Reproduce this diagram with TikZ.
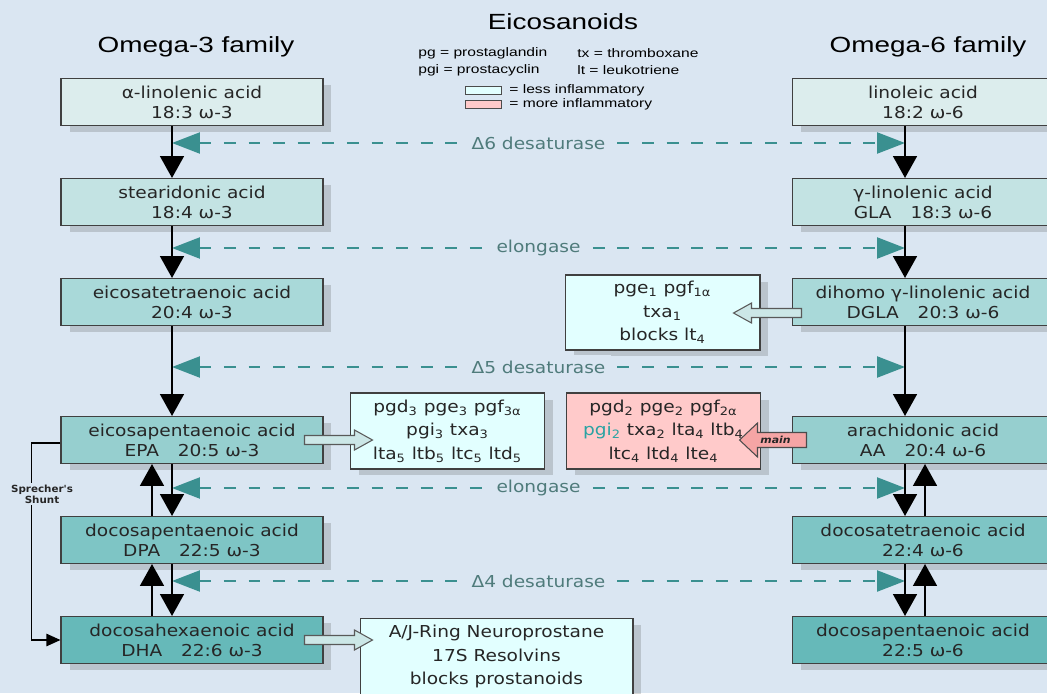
\documentclass[tikz,border=0pt]{standalone}
\usepackage{fontspec}
\setmainfont{DejaVu Sans}[FakeStretch=1.13]
\newfontfamily\titlefont{Liberation Sans}[FakeStretch=1.27]
\newfontfamily\shuntfont{DejaVu Sans}[FakeStretch=1.05]
\usetikzlibrary{arrows.meta,shadows,calc}
\definecolor{bg}{HTML}{DAE6F2}
\definecolor{cA}{HTML}{DCEDED}
\definecolor{cB}{HTML}{C3E3E3}
\definecolor{cC}{HTML}{A9D9D9}
\definecolor{cD}{HTML}{96CFCF}
\definecolor{cE}{HTML}{7EC5C5}
\definecolor{cF}{HTML}{66B9B9}
\definecolor{tealline}{HTML}{3A9090}
\definecolor{lblcol}{HTML}{4F7B7B}
\definecolor{lesscol}{HTML}{E2FFFF}
\definecolor{morecol}{HTML}{FFCACA}
\definecolor{arrfill}{HTML}{CCE7E7}
\definecolor{mainfill}{HTML}{F6A5A5}
\definecolor{pgicol}{HTML}{2AA3A3}
\newcommand{\gapsp}{\hspace{1.15em}}
\tikzset{
  boxshadow/.style={drop shadow={shadow xshift=0.17cm, shadow yshift=-0.13cm, fill=black!70, opacity=0.22}},
  acid/.style={draw=black!75, line width=0.6pt, minimum width=5.24cm, minimum height=0.94cm,
    inner sep=0pt, align=center, text=black!85, font=\fontsize{9.35}{11.3}\selectfont, boxshadow},
  prod/.style={draw=black!75, line width=0.6pt, minimum width=3.88cm, minimum height=1.52cm,
    inner sep=0pt, align=center, text=black!85, font=\fontsize{9.35}{13.3}\selectfont, boxshadow},
  conv/.style={line width=1.15pt, -{Triangle[width=13.6pt,length=12.5pt]}},
  enz/.style={tealline, line width=1.4pt, dash pattern=on 6.8pt off 7.2pt,
    {Triangle[width=11.9pt,length=15.9pt]}-{Triangle[width=11.9pt,length=15.9pt]}},
  enzlbl/.style={fill=bg, text=lblcol, inner sep=3pt, font=\fontsize{9.35}{11}\selectfont},
  blockarr/.style={draw=black!65, line width=0.6pt, fill=arrfill},
  legtext/.style={anchor=west, inner sep=0pt, font=\titlefont\fontsize{7.0}{8.4}\selectfont},
  headtext/.style={font=\titlefont\fontsize{12.5}{14}\selectfont, inner sep=0pt},
}
\begin{document}
\begin{tikzpicture}[x=0.02cm, y=-0.02cm]
\useasboundingbox (0,0) rectangle (1047,693);
\clip (0,0) rectangle (1047,693);
\fill[bg] (0,0) rectangle (1047,693);

% headings
\node[headtext] (title) at (563,22) {Eicosanoids};
\node[headtext] (om3) at (196,47) {Omega-3 family};
\node[headtext] (om6) at (928,47) {Omega-6 family};

% legend
\node[legtext] (lg1) at (418,53) {pg = prostaglandin};
\node[legtext] (lg2) at (418,70) {pgi = prostacyclin};
\node[legtext] (lg3) at (577,53) {tx = thromboxane};
\node[legtext] (lg4) at (577,70) {lt = leukotriene};
\node[draw=black!70, fill=lesscol, minimum width=0.72cm, minimum height=0.16cm, inner sep=0pt] (lgless) at (483,90) {};
\node[draw=black!70, fill=morecol, minimum width=0.72cm, minimum height=0.16cm, inner sep=0pt] (lgmore) at (483,104) {};
\node[legtext] (lg5) at (509,90) {= less inflammatory};
\node[legtext] (lg6) at (509,104) {= more inflammatory};

% omega-3 column
\node[acid, fill=cA] (ala) at (192,102) {α-linolenic acid\\18:3 ω-3};
\node[acid, fill=cB] (sda) at (192,202) {stearidonic acid\\18:4 ω-3};
\node[acid, fill=cC] (eta) at (192,302) {eicosatetraenoic acid\\20:4 ω-3};
\node[acid, fill=cD] (epa) at (192,440) {eicosapentaenoic acid\\EPA\gapsp 20:5 ω-3};
\node[acid, fill=cE] (dpa3) at (192,540) {docosapentaenoic acid\\DPA\gapsp 22:5 ω-3};
\node[acid, fill=cF] (dha) at (192,640) {docosahexaenoic acid\\DHA\gapsp 22:6 ω-3};

% omega-6 column
\node[acid, fill=cA] (la) at (923,102) {linoleic acid\\18:2 ω-6};
\node[acid, fill=cB] (gla) at (923,202) {γ-linolenic acid\\GLA\gapsp 18:3 ω-6};
\node[acid, fill=cC] (dgla) at (923,302) {dihomo γ-linolenic acid\\DGLA\gapsp 20:3 ω-6};
\node[acid, fill=cD] (aa) at (923,440) {arachidonic acid\\AA\gapsp 20:4 ω-6};
\node[acid, fill=cE] (dta) at (923,540) {docosatetraenoic acid\\22:4 ω-6};
\node[acid, fill=cF] (dpa6) at (923,640) {docosapentaenoic acid\\22:5 ω-6};

% product boxes
\node[prod, fill=lesscol, minimum width=3.9cm, minimum height=1.5cm] (dglaP) at (662.5,312.5)
  {pge\textsubscript{1} pgf\textsubscript{1α}\\txa\textsubscript{1}\\blocks lt\textsubscript{4}};
\node[prod, fill=lesscol] (epaP) at (447.5,431)
  {pgd\textsubscript{3} pge\textsubscript{3} pgf\textsubscript{3α}\\pgi\textsubscript{3} txa\textsubscript{3}\\lta\textsubscript{5} ltb\textsubscript{5} ltc\textsubscript{5} ltd\textsubscript{5}};
\node[prod, fill=morecol] (aaP) at (663.5,431)
  {pgd\textsubscript{2} pge\textsubscript{2} pgf\textsubscript{2α}\\{\color{pgicol}pgi\textsubscript{2}} txa\textsubscript{2} lta\textsubscript{4} ltb\textsubscript{4}\\ltc\textsubscript{4} ltd\textsubscript{4} lte\textsubscript{4}};
\node[prod, fill=lesscol, minimum width=5.46cm, anchor=north] (dhaP) at (496.5,618)
  {A/J-Ring Neuroprostane\\17S Resolvins\\blocks prostanoids};

% reference coordinates for the vertical routes and enzyme lines
\coordinate (L) at (172,0);
\coordinate (Lu) at (152,0);
\coordinate (R) at (905,0);
\coordinate (Ru) at (925,0);
\coordinate (d6l) at (172,143);  \coordinate (d6r) at (905,143);
\coordinate (e1l) at (172,248);  \coordinate (e1r) at (905,248);
\coordinate (d5l) at (172,367);  \coordinate (d5r) at (905,367);
\coordinate (e2l) at (172,488);  \coordinate (e2r) at (905,488);
\coordinate (d4l) at (172,581);  \coordinate (d4r) at (905,581);

% enzyme (dashed) connectors
\draw[enz] (d6l) -- node[enzlbl] (lbd6) {Δ6 desaturase} (d6r);
\draw[enz] (e1l) -- node[enzlbl] (lbe1) {elongase} (e1r);
\draw[enz] (d5l) -- node[enzlbl] (lbd5) {Δ5 desaturase} (d5r);
\draw[enz] (e2l) -- node[enzlbl] (lbe2) {elongase} (e2r);
\draw[enz] (d4l) -- node[enzlbl] (lbd4) {Δ4 desaturase} (d4r);

% conversion arrows, omega-3
\draw[conv] (ala.south -| L) -- (sda.north -| L);
\draw[conv] (sda.south -| L) -- (eta.north -| L);
\draw[conv] (eta.south -| L) -- (epa.north -| L);
\draw[conv] (epa.south -| L) -- (dpa3.north -| L);
\draw[conv] (dpa3.south -| L) -- (dha.north -| L);
\draw[conv] (dpa3.north -| Lu) -- (epa.south -| Lu);
\draw[conv] (dha.north -| Lu) -- (dpa3.south -| Lu);

% conversion arrows, omega-6
\draw[conv] (la.south -| R) -- (gla.north -| R);
\draw[conv] (gla.south -| R) -- (dgla.north -| R);
\draw[conv] (dgla.south -| R) -- (aa.north -| R);
\draw[conv] (aa.south -| R) -- (dta.north -| R);
\draw[conv] (dta.south -| R) -- (dpa6.north -| R);
\draw[conv] (dta.north -| Ru) -- (aa.south -| Ru);
\draw[conv] (dpa6.north -| Ru) -- (dta.south -| Ru);

% Sprecher's shunt
\draw[line width=0.9pt, -{Triangle[length=8pt,width=7pt]}] ($(epa.west)+(0,3)$) -- ++(-29,0) |- (dha.west);
\node[font=\shuntfont\bfseries\fontsize{5.6}{6.4}\selectfont, text=black!85, fill=bg, inner sep=1pt, align=center] (shunt) at (42,494) {Sprecher's\\Shunt};

% block arrows to product boxes
\draw[blockarr] ($(epa.east)+(-19,-4.5)$) -- ++(50,0) -- ++(0,-5.5) -- ++(18,10) -- ++(-18,10) -- ++(0,-5.5) -- ++(-50,0) -- cycle;
\draw[blockarr] ($(dha.east)+(-19,-4.5)$) -- ++(50,0) -- ++(0,-5.5) -- ++(18,10) -- ++(-18,10) -- ++(0,-5.5) -- ++(-50,0) -- cycle;
\draw[blockarr] ($(dgla.west)+(10,6.5)$) -- ++(-50,0) -- ++(0,-5.5) -- ++(-18,10) -- ++(18,10) -- ++(0,-5.5) -- ++(50,0) -- cycle;
\draw[blockarr, fill=mainfill, draw=black!70] ($(aa.west)+(15,-7.5)$) -- ++(-49,0) -- ++(0,-9.5) -- ++(-18,17) -- ++(18,17) -- ++(0,-9.5) -- ++(49,0) -- cycle;
\node[font=\bfseries\itshape\fontsize{5.5}{6}\selectfont, text=black!85, inner sep=0pt] (mainlbl) at ($(aa.west)+(-16,0)$) {main};
\end{tikzpicture}
\end{document}
